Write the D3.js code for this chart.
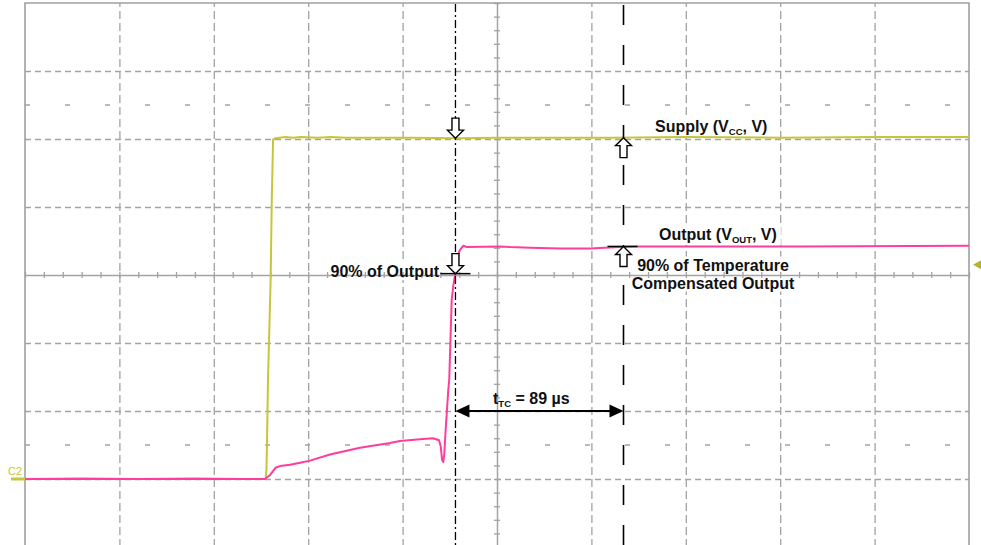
<!DOCTYPE html>
<html>
<head>
<meta charset="utf-8">
<script src="https://cdn.jsdelivr.net/npm/d3@7/dist/d3.min.js"></script>
<style>
  html, body { margin: 0; padding: 0; background: #fff; }
  svg { display: block; }
  text { font-family: "Liberation Sans", Arial, sans-serif; font-weight: bold; fill: #111; }
</style>
</head>
<body>
<svg id="chart" width="981" height="545"></svg>
<script>
// Time axis (µs, 50 µs/div) and voltage axis (1 V/div, channel ground at 0 V)
const timeDivisions = [-250, -200, -150, -100, -50, 0, 50, 100, 150, 200, 250];
const voltDivisions = [-1, 0, 1, 2, 3, 4, 5, 6, 7];
const halfDivisionLevels = [5.5, 0.5];

// Supply trace (VCC): [time µs, volts]
const supplyTrace = [
  [-250, 0], [-220, 0.01], [-190, 0], [-160, 0.01], [-135, 0], [-122.6, 0],
  [-122.1, 0.13], [-121.8, 0.57], [-121.3, 1.46], [-119.9, 2.93], [-119.3, 4.10],
  [-118.6, 4.99], [-117.6, 5.01], [-112, 5.03], [-108, 5.02], [-104, 5.03],
  [-95, 5.02], [-88, 5.03], [-80, 5.02], [-60, 5.02], [-45, 5.02], [-20, 5.01],
  [0, 5.02], [30, 5.02], [60, 5.02], [100, 5.03], [150, 5.02], [200, 5.03], [250, 5.03]
];

// Output trace (VOUT): [time µs, volts]
const outputTrace = [
  [-250, 0], [-200, 0], [-150, 0], [-122.9, 0], [-120.2, 0.06], [-117.1, 0.17],
  [-114.9, 0.19], [-109.6, 0.21], [-104.3, 0.24], [-99.0, 0.27], [-88.5, 0.36],
  [-72.6, 0.46], [-56.7, 0.53], [-51.4, 0.56], [-39.2, 0.59], [-33.9, 0.60],
  [-30.7, 0.57], [-29.8, 0.48], [-29.1, 0.28], [-28.4, 0.25], [-27.9, 0.38],
  [-27.2, 0.72], [-26.6, 0.97], [-25.8, 1.31], [-25.3, 1.46], [-24.0, 2.63],
  [-23.1, 2.85], [-22.2, 3.0], [-21.2, 3.26], [-19.6, 3.37], [-17.8, 3.43],
  [-15.9, 3.41], [1.6, 3.42], [6.9, 3.41], [17.5, 3.40], [33.4, 3.39],
  [49.3, 3.39], [65.1, 3.41], [75.7, 3.42], [107.5, 3.42], [160.5, 3.42], [250, 3.43]
];

// Measurement cursors
const cursorStart = -22;          // 90% of output reached
const ttcMicroseconds = 89;       // temperature compensation time
const cursorEnd = cursorStart + ttcMicroseconds;
const supplyLevel = 5.02;
const ninetyPctLevel = 3.02;
const outputLevel = 3.42;
const spanArrowLevel = 1.0;
const triggerLevel = 3.15;

const svg = d3.select("#chart");
const x = d3.scaleLinear().domain([-250, 250]).range([25, 969]);
const y = d3.scaleLinear().domain([-1, 7]).range([547, 3]);

const gridColor = "#a3a3a3";
const supplyColor = "#c6c63c";
const outputColor = "#ff3d9c";

// ---- graticule ----
const grid = svg.append("g");
const vGrid = grid.append("g")
  .attr("transform", `translate(0,${y(-1)})`)
  .call(d3.axisBottom(x).tickValues(timeDivisions.filter(t => t !== 0 && t !== -250 && t !== 250))
    .tickSize(-(y(-1) - y(7))).tickFormat(""));
vGrid.select(".domain").remove();
vGrid.selectAll("line").attr("stroke", gridColor).attr("stroke-width", 1.3).attr("stroke-dasharray", "8,4");

const hGrid = grid.append("g")
  .attr("transform", `translate(${x(-250)},0)`)
  .call(d3.axisRight(y).tickValues(voltDivisions.filter(v => v !== 3 && v !== 7 && v !== -1))
    .tickSize(x(250) - x(-250)).tickFormat(""));
hGrid.select(".domain").remove();
hGrid.selectAll("line").attr("stroke", gridColor).attr("stroke-width", 1.3).attr("stroke-dasharray", "6,4");

// sparse half-division marks
grid.selectAll("line.half").data(halfDivisionLevels).join("line")
  .attr("x1", x(-250)).attr("x2", x(250))
  .attr("y1", d => y(d)).attr("y2", d => y(d))
  .attr("stroke", gridColor).attr("stroke-width", 1.3)
  .attr("stroke-dasharray", "5,35");

// ---- label backgrounds layer (drawn under traces) ----
const bgLayer = svg.append("g");

// centre axes with minor ticks
const centre = svg.append("g");
const xMinor = d3.range(-250, 250.1, 10);
const yMinor = d3.range(-1, 7.01, 0.2);
const hAxis = centre.append("g").attr("transform", `translate(0,${y(3)})`)
  .call(d3.axisBottom(x).tickValues(xMinor).tickSizeInner(3).tickSizeOuter(0).tickFormat(""));
hAxis.append("g").call(d3.axisTop(x).tickValues(xMinor).tickSizeInner(3).tickSizeOuter(0).tickFormat(""))
  .select(".domain").remove();
const vAxis = centre.append("g").attr("transform", `translate(${x(0)},0)`)
  .call(d3.axisLeft(y).tickValues(yMinor).tickSizeInner(3).tickSizeOuter(0).tickFormat(""));
vAxis.append("g").call(d3.axisRight(y).tickValues(yMinor).tickSizeInner(3).tickSizeOuter(0).tickFormat(""))
  .select(".domain").remove();
centre.selectAll("path.domain").attr("stroke", gridColor).attr("stroke-width", 1.5);
centre.selectAll(".tick line").attr("stroke", gridColor).attr("stroke-width", 1.3);

// frame
svg.append("path")
  .attr("d", `M${x(-250)},${545}V${y(7)}H${x(250)}V${545}`)
  .attr("fill", "none").attr("stroke", "#a0a0a0").attr("stroke-width", 1.6);

// ---- traces ----
const line = d3.line().x(d => x(d[0])).y(d => y(d[1]));
svg.append("path").datum(supplyTrace).attr("d", line)
  .attr("fill", "none").attr("stroke", supplyColor).attr("stroke-width", 2).attr("stroke-linejoin", "round");
svg.append("path").datum(outputTrace).attr("d", line)
  .attr("fill", "none").attr("stroke", outputColor).attr("stroke-width", 2).attr("stroke-linejoin", "round");

// channel ground marker and trigger marker
svg.append("line").attr("x1", 11).attr("x2", x(-250)).attr("y1", y(0)).attr("y2", y(0))
  .attr("stroke", supplyColor).attr("stroke-width", 3);
svg.append("text").attr("x", 8).attr("y", 475).text("C2")
  .style("font-weight", "normal").style("font-size", "11px").style("fill", supplyColor);
svg.append("path")
  .attr("d", `M${973},${y(triggerLevel)}L${981},${y(triggerLevel) - 4.5}L${981},${y(triggerLevel) + 4.5}Z`)
  .attr("fill", "#b5b52a");

// ---- cursors ----
const ann = svg.append("g");
ann.append("line").attr("x1", x(cursorStart)).attr("x2", x(cursorStart)).attr("y1", 4).attr("y2", 545)
  .attr("stroke", "#000").attr("stroke-width", 1.3).attr("stroke-dasharray", "8,3,2,3");
ann.append("line").attr("x1", x(cursorEnd)).attr("x2", x(cursorEnd)).attr("y1", 5).attr("y2", 545)
  .attr("stroke", "#000").attr("stroke-width", 1.6).attr("stroke-dasharray", "20,20");

// level marks
ann.append("line").attr("x1", x(cursorStart) - 15).attr("x2", x(cursorStart) + 15)
  .attr("y1", y(ninetyPctLevel)).attr("y2", y(ninetyPctLevel)).attr("stroke", "#000").attr("stroke-width", 1.5);
ann.append("line").attr("x1", x(cursorEnd) - 16).attr("x2", x(cursorEnd) + 14)
  .attr("y1", y(outputLevel)).attr("y2", y(outputLevel)).attr("stroke", "#000").attr("stroke-width", 1.5);

// hollow block arrows
function blockArrow(tx, ty, dir) {
  const L = 20, H = 8, hw = 8, sw = 3.5, s = dir; // s = -1 points down (tip below), +1 points up
  const b = ty - s * L * -1; // base end
  const hb = ty + s * H;     // head base
  const base = ty + s * L;
  return `M${tx},${ty}L${tx + hw},${hb}L${tx + sw},${hb}L${tx + sw},${base}` +
         `L${tx - sw},${base}L${tx - sw},${hb}L${tx - hw},${hb}Z`;
}
// down arrows (tip below): base is above tip => s = -1
[[x(cursorStart), y(supplyLevel) + 0.5, -1], [x(cursorStart), y(ninetyPctLevel), -1],
 [x(cursorEnd), y(supplyLevel), 1], [x(cursorEnd), y(outputLevel), 1]].forEach(([tx, ty, s]) => {
  ann.append("path").attr("d", blockArrow(tx, ty, s))
    .attr("fill", "#fff").attr("stroke", "#000").attr("stroke-width", 1.4).attr("stroke-linejoin", "miter");
});

// tTC span arrow
const ya = y(spanArrowLevel);
const x0 = x(cursorStart), x1 = x(cursorEnd);
ann.append("line").attr("x1", x0 + 10).attr("x2", x1 - 10).attr("y1", ya).attr("y2", ya)
  .attr("stroke", "#000").attr("stroke-width", 2);
ann.append("path").attr("d", `M${x0},${ya}L${x0 + 14},${ya - 6.5}L${x0 + 14},${ya + 6.5}Z`).attr("fill", "#000");
ann.append("path").attr("d", `M${x1},${ya}L${x1 - 14},${ya - 6.5}L${x1 - 14},${ya + 6.5}Z`).attr("fill", "#000");

// ---- labels ----
const labels = svg.append("g").style("font-size", "16px");
function subLabel(g, xPos, yPos, parts, anchor) {
  const t = g.append("text").attr("x", xPos).attr("y", yPos).attr("text-anchor", anchor || "start");
  parts.forEach(p => {
    if (p.sub) t.append("tspan").text(p.sub).style("font-size", "9.5px").attr("dy", 3);
    else t.append("tspan").text(p.t).attr("dy", p.back ? -3 : 0);
  });
  return t;
}
const lbls = [];
lbls.push(subLabel(labels, 655, 131.5, [{t: "Supply (V"}, {sub: "CC"}, {t: ", V)", back: true}]));
lbls.push(subLabel(labels, 659, 240, [{t: "Output (V"}, {sub: "OUT"}, {t: ", V)", back: true}]));
lbls.push(labels.append("text").attr("x", 439).attr("y", 277).attr("text-anchor", "end").text("90% of Output"));
const tc = labels.append("text").attr("x", 713).attr("text-anchor", "middle");
tc.append("tspan").attr("x", 713).attr("y", 270.5).text("90% of Temperature");
tc.append("tspan").attr("x", 713).attr("y", 288.5).text("Compensated Output");
lbls.push(tc);
lbls.push(subLabel(labels, 493, 403.5, [{t: "t"}, {sub: "TC"}, {t: " = 89 µs", back: true}]));

lbls.forEach(t => {
  const b = t.node().getBBox();
  bgLayer.append("rect").attr("x", b.x - 4).attr("y", b.y).attr("width", b.width + 8).attr("height", b.height)
    .attr("fill", "#fff");
});
</script>
</body>
</html>
